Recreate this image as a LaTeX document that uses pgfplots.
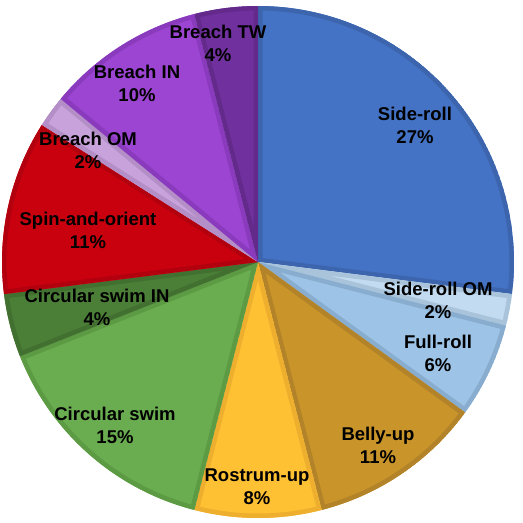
\documentclass[border=0pt]{standalone}
\usepackage{pgfplots}
\usepackage{pgfplotstable}
\pgfplotsset{compat=1.18}
\usepackage{fontspec}
\setmainfont{Liberation Sans}

% slice fill (c) and border (b) colours, in the order of the table
\definecolor{c0}{HTML}{4472C4}\definecolor{b0}{HTML}{3C65AE}
\definecolor{c1}{HTML}{C3DBF0}\definecolor{b1}{HTML}{A9C3DA}
\definecolor{c2}{HTML}{9DC3E6}\definecolor{b2}{HTML}{88ADCE}
\definecolor{c3}{HTML}{C9952B}\definecolor{b3}{HTML}{B28328}
\definecolor{c4}{HTML}{FFC134}\definecolor{b4}{HTML}{EEAE2E}
\definecolor{c5}{HTML}{6AAD50}\definecolor{b5}{HTML}{5C9A43}
\definecolor{c6}{HTML}{4B7E37}\definecolor{b6}{HTML}{427030}
\definecolor{c7}{HTML}{C9000E}\definecolor{b7}{HTML}{B2000E}
\definecolor{c8}{HTML}{C8A2DA}\definecolor{b8}{HTML}{B48FC7}
\definecolor{c9}{HTML}{9C45D2}\definecolor{b9}{HTML}{8A3BBD}
\definecolor{c10}{HTML}{70309E}\definecolor{b10}{HTML}{632A8C}

% percentages, clockwise from 12 o'clock; lx,ly = label centre (px, y down)
\pgfplotstableread[col sep=comma]{
name,pct,lx,ly
Side-roll,27,415,125
Side-roll OM,2,438,300
Full-roll,6,438,353
Belly-up,11,378,445
Rostrum-up,8,257,487
Circular swim,15,115,425
Circular swim IN,4,97,307
Spin-and-orient,11,88,230
Breach OM,2,88,150
Breach IN,10,137,83
Breach TW,4,218,43
}\pietable

\def\cx{258}\def\cy{262}\def\rad{256pt}

\begin{document}
\begin{tikzpicture}
\useasboundingbox (0,0) rectangle (523pt,523pt);
\begin{axis}[scale only axis,width=523pt,height=523pt,
  xmin=0,xmax=523,ymin=0,ymax=523,y dir=reverse,hide axis,clip=false]
\pgfplotsextra{%
  \pgfplotstablegetrowsof{\pietable}%
  \pgfmathtruncatemacro\nrows{\pgfplotsretval-1}%
  \gdef\angA{90}%
  \pgfplotsforeachungrouped \i in {0,...,\nrows}{%
    \pgfplotstablegetelem{\i}{pct}\of\pietable \let\pct\pgfplotsretval
    \pgfmathsetmacro\angB{\angA-3.6*\pct}%
    \begin{scope}
      \clip (axis cs:\cx,\cy) -- ++(\angA:\rad) arc[start angle=\angA,end angle=\angB,radius=\rad] -- cycle;
      \fill[c\i] (axis cs:\cx,\cy) -- ++(\angA:\rad) arc[start angle=\angA,end angle=\angB,radius=\rad] -- cycle;
      \draw[b\i,line width=9pt,line join=round] (axis cs:\cx,\cy) -- ++(\angA:\rad) arc[start angle=\angA,end angle=\angB,radius=\rad] -- cycle;
    \end{scope}
    \xdef\angA{\angB}%
  }%
  \pgfplotsforeachungrouped \i in {0,...,\nrows}{%
    \pgfplotstablegetelem{\i}{pct}\of\pietable \let\pct\pgfplotsretval
    \pgfplotstablegetelem{\i}{name}\of\pietable \let\nm\pgfplotsretval
    \pgfplotstablegetelem{\i}{lx}\of\pietable \let\lx\pgfplotsretval
    \pgfplotstablegetelem{\i}{ly}\of\pietable \let\ly\pgfplotsretval
    \node[align=center,font=\fontsize{18.5}{23}\selectfont\bfseries,inner sep=0pt]
      at (axis cs:\lx,\ly) {\nm\\\pct\%};
  }%
}
\end{axis}
\end{tikzpicture}
\end{document}
